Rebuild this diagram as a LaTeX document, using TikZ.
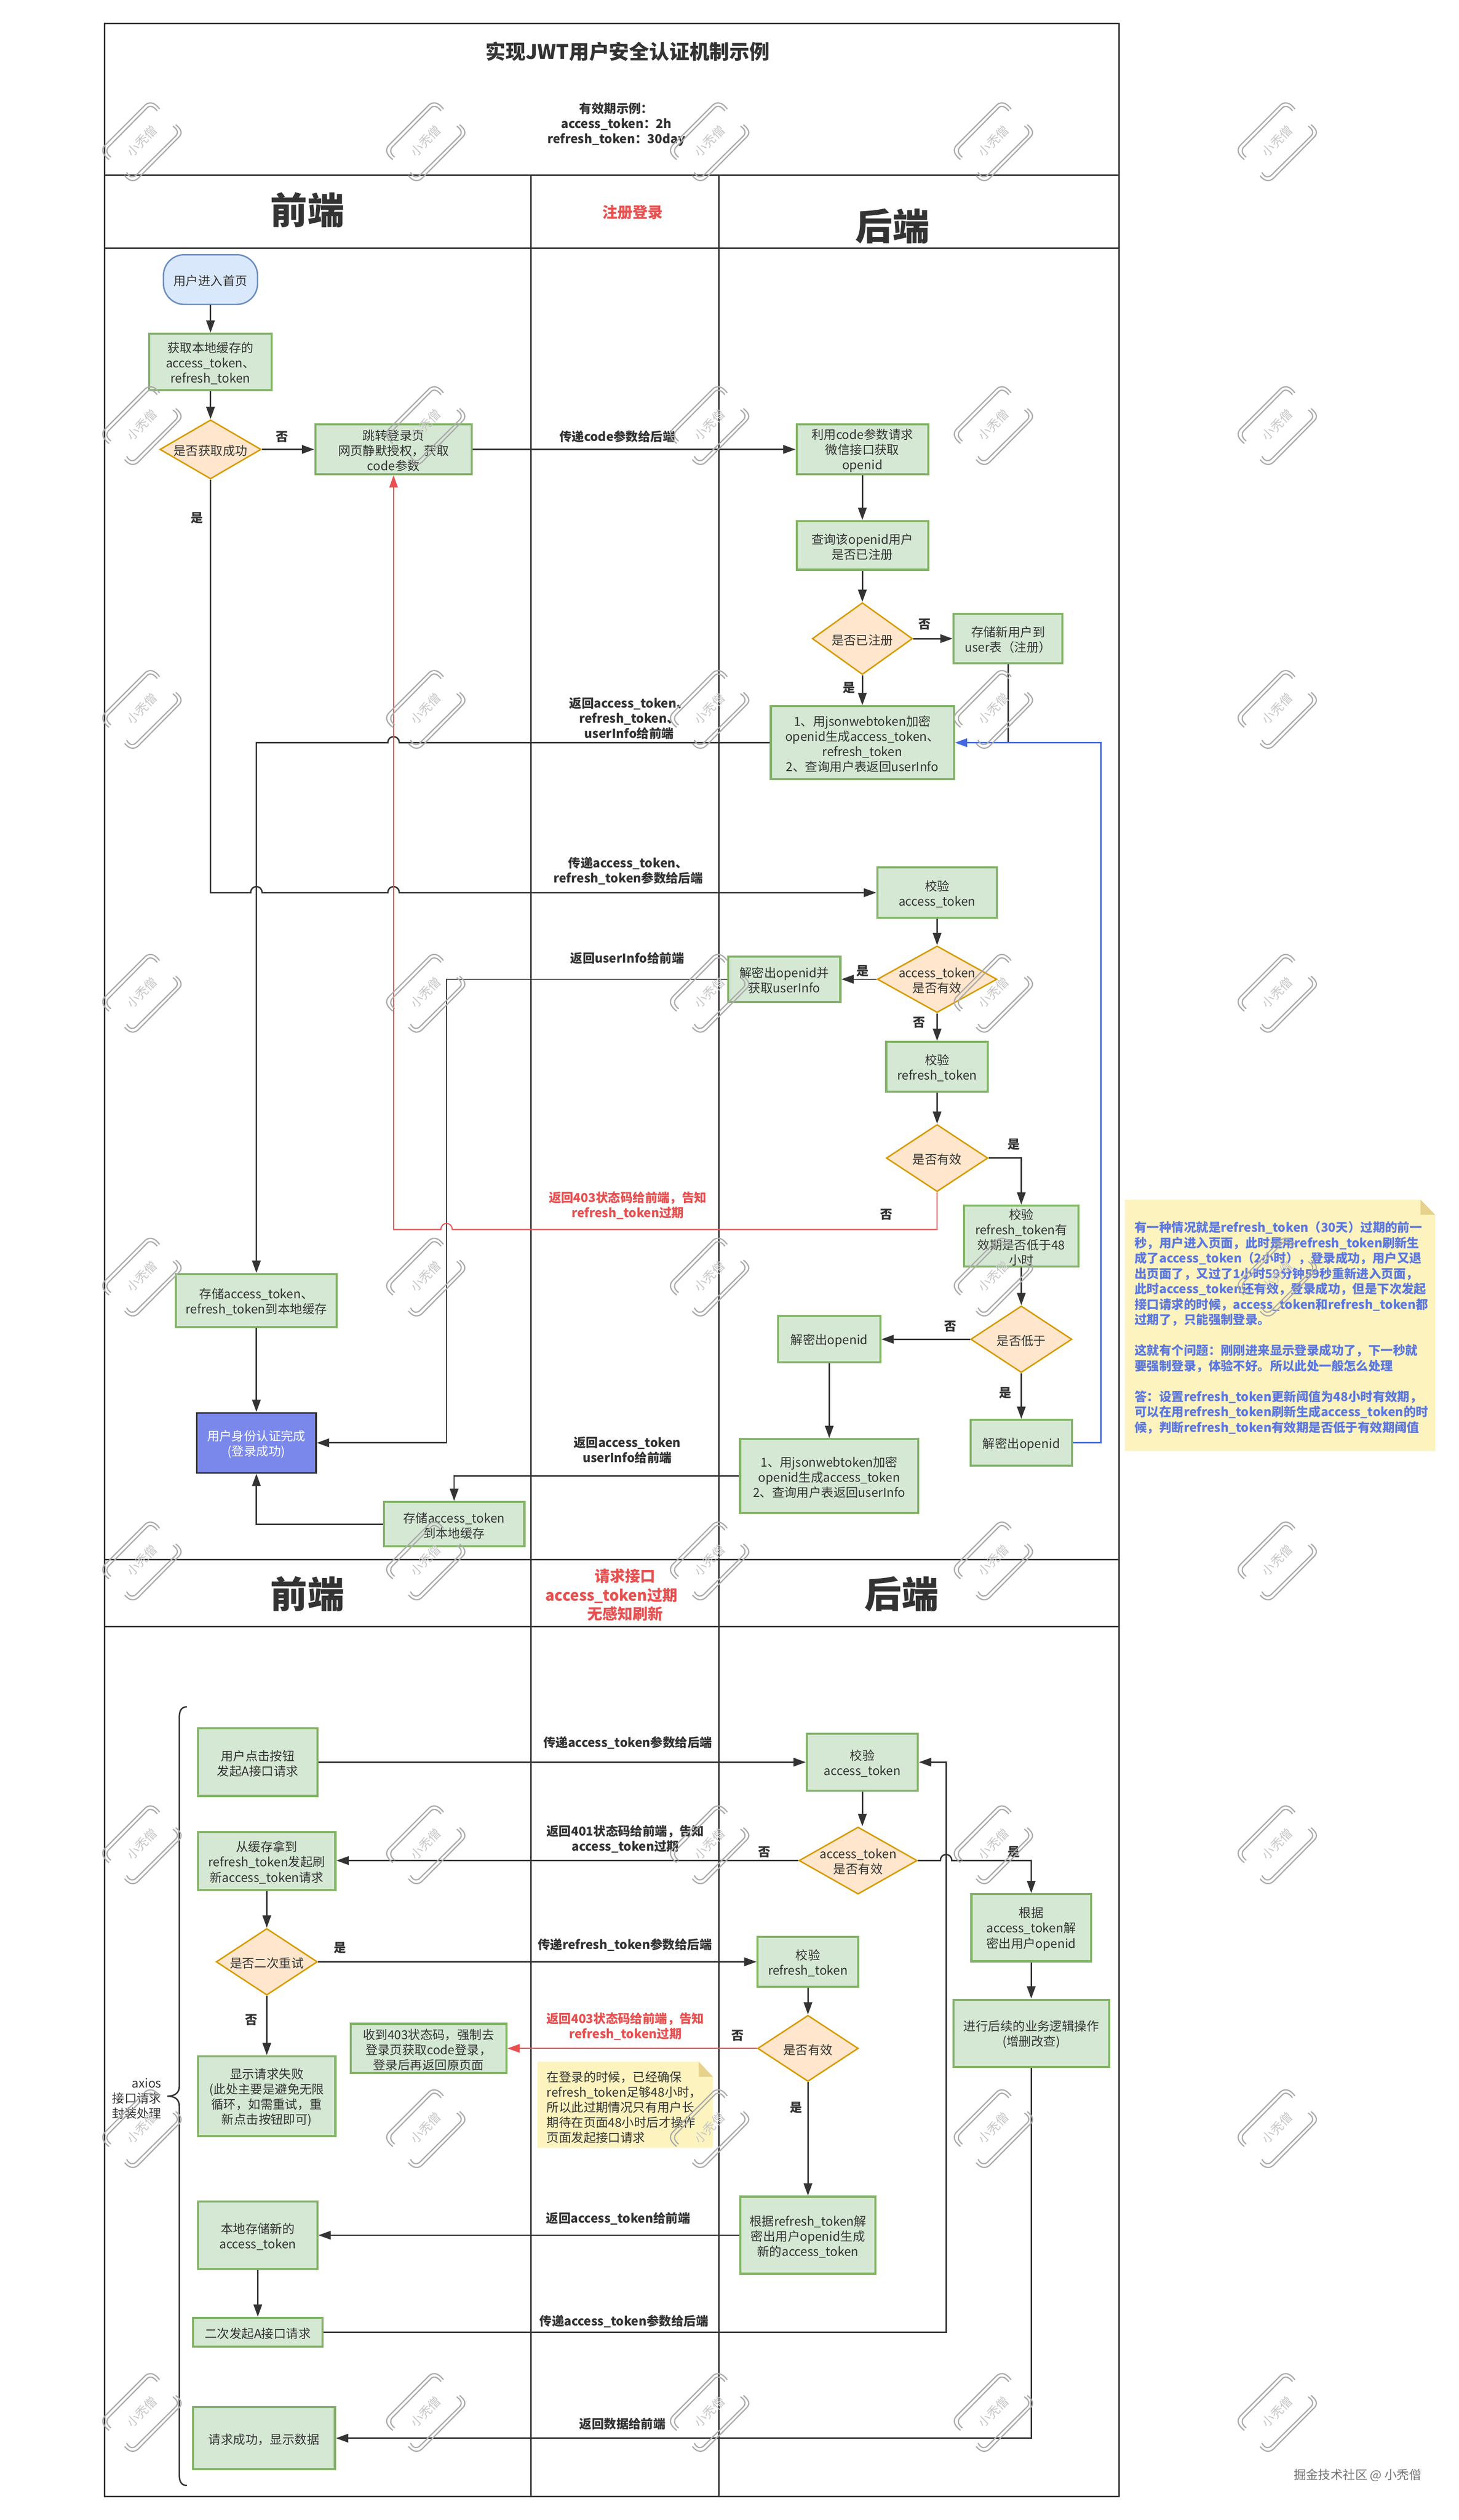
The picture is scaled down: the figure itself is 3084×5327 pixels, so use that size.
\documentclass[tikz,border=0pt]{standalone}
\usepackage{fontspec}
\setmainfont{Noto Sans CJK SC}
\usetikzlibrary{shapes.geometric,arrows.meta}
\definecolor{ink}{HTML}{333333}
\definecolor{gfill}{HTML}{D5E8D4}
\definecolor{gline}{HTML}{82B366}
\definecolor{ofill}{HTML}{FFE6CC}
\definecolor{oline}{HTML}{D79B00}
\definecolor{bfill}{HTML}{DAE8FC}
\definecolor{bline}{HTML}{6C8EBF}
\definecolor{authfill}{HTML}{7A88EC}
\definecolor{redc}{HTML}{E85050}
\definecolor{bluec}{HTML}{4169E1}
\definecolor{notetxt}{HTML}{5C78E0}
\definecolor{notefill}{HTML}{FDF3BF}
\definecolor{notefold}{HTML}{E6D28C}
\definecolor{wmgray}{HTML}{ABABAB}
\tikzset{
  x=0.25pt,y=-0.25pt,
  basefont/.style={font=\fontsize{6.5}{8}\selectfont,text=ink,align=center,inner sep=0pt,yshift=-0.7pt},
  gbox/.style={rectangle,draw=gline,fill=gfill,line width=1.1pt,inner sep=0pt},
  dmd/.style={diamond,draw=oline,fill=ofill,line width=.75pt,inner sep=0pt,aspect=1},
  startbox/.style={rectangle,rounded corners=11pt,draw=bline,fill=bfill,line width=.75pt,inner sep=0pt},
  authbox/.style={rectangle,draw=ink,fill=authfill,line width=.9pt,inner sep=0pt},
  txt/.style={basefont},
  lab/.style={basefont,font=\fontsize{6.5}{8}\selectfont\bfseries},
  rlab/.style={lab,text=redc},
  seclab/.style={basefont,font=\fontsize{8}{10}\selectfont\bfseries,text=redc},
  bigt/.style={basefont,yshift=0.7pt,font=\fontsize{19.5}{24}\selectfont\bfseries},
  lane/.style={draw=ink,line width=.8pt},
  conn/.style={draw=ink,line width=.75pt,-{Triangle[length=6.5pt,width=4.5pt]}},
  lineonly/.style={draw=ink,line width=.75pt},
  redconn/.style={draw=redc,line width=.55pt,-{Triangle[length=6.5pt,width=4.5pt]}},
  blueconn/.style={draw=bluec,line width=.7pt,-{Triangle[length=6.5pt,width=4.5pt]}},
  wmline/.style={draw=wmgray,line width=.65pt,line cap=round},
  wmtext/.style={inner sep=0pt,font=\fontsize{6.5}{8}\selectfont,text=black!22,rotate=45},
}
\newcommand\bx[7]{\node[#2,minimum width=#5*0.25pt,minimum height=#6*0.25pt] (#1) at (#3,#4) {};\node[txt] (#1-t) at (#1) {#7};}
\newcommand\dm[6]{\node[dmd,minimum width=#4*0.25pt,minimum height=#5*0.25pt] (#1) at (#2,#3) {};\node[txt] (#1-t) at (#1) {#6};}
\begin{document}
\begin{tikzpicture}
\path[use as bounding box,fill=white] (0,0) rectangle (3084,5327);
% lanes
\draw[lane] (221,50) rectangle (2366,5277);
\draw[lane] (221,370) -- (2366,370);
\draw[lane] (221,525) -- (2366,525);
\draw[lane] (221,3297) -- (2366,3297);
\draw[lane] (221,3439) -- (2366,3439);
\draw[lane] (1122,370) -- (1122,5277);
\draw[lane] (1520,370) -- (1520,5277);
% headers
\node[basefont,yshift=0.7pt,font=\fontsize{10.6}{14}\selectfont\bfseries] (title) at (1327,109) {实现JWT用户安全认证机制示例};
\node[lab] (valid) at (1303,260) {有效期示例：\\access\_token：2h\\refresh\_token：30day};
\node[bigt] (fe1) at (650,444) {前端};
\node[bigt] (be1) at (1887,478) {后端};
\node[seclab,yshift=0.7pt] (sec1) at (1338,449) {注册登录};
\node[bigt] (fe2) at (650,3369) {前端};
\node[bigt] (be2) at (1906,3370) {后端};
\node[seclab] (sec2) at (1322,3369) {请求接口\\access\_token过期\rule{14.5pt}{0pt}\\无感知刷新};
% part 1 nodes
\bx{start}{startbox}{445}{591}{199}{105}{用户进入首页}
\bx{cache}{gbox}{445}{765}{259}{119}{获取本地缓存的\\access\_token、\\refresh\_token}
\dm{d1}{445}{950}{214}{125}{是否获取成功}
\bx{redir}{gbox}{832}{950}{331}{105}{跳转登录页\\网页静默授权，获取\\code参数}
\bx{code}{gbox}{1823}{950}{278}{105}{利用code参数请求\\微信接口获取\\openid}
\bx{query}{gbox}{1823}{1153}{278}{103}{查询该openid用户\\是否已注册}
\dm{d2}{1823}{1350}{212}{152}{是否已注册}
\bx{saveu}{gbox}{2131}{1350}{230}{105}{存储新用户到\\user表（注册）}
\bx{jwta}{gbox}{1823}{1570}{387}{154}{1、用jsonwebtoken加密\\openid生成access\_token、\\refresh\_token\\2、查询用户表返回userInfo}
\bx{chka}{gbox}{1981}{1887}{253}{106}{校验\\access\_token}
\dm{daa}{1981}{2070}{253}{141}{access\_token\\是否有效}
\bx{decinfo}{gbox}{1658}{2070}{237}{96}{解密出openid并\\获取userInfo}
\bx{chkr}{gbox}{1981}{2255}{215}{105}{校验\\refresh\_token}
\dm{dr}{1981}{2448}{215}{142}{是否有效}
\bx{chkf}{gbox}{2159}{2613}{242}{129}{校验\\refresh\_token有\\效期是否低于48\\小时}
\dm{df}{2159}{2831}{214}{141}{是否低于}
\bx{decl}{gbox}{1753}{2831}{216}{98}{解密出openid}
\bx{decr}{gbox}{2159}{3050}{215}{97}{解密出openid}
\bx{jwtb}{gbox}{1753}{3120}{377}{156}{1、用jsonwebtoken加密\\openid生成access\_token\\2、查询用户表返回userInfo}
\bx{store}{gbox}{542}{2749}{340}{112}{存储access\_token、\\refresh\_token到本地缓存}
\node[authbox,minimum width=252*0.25pt,minimum height=127*0.25pt] (auth) at (542,3050) {};
\node[txt,text=white] (auth-t) at (auth) {用户身份认证完成\\(登录成功)};
\bx{savea}{gbox}{960}{3222}{297}{94}{存储access\_token\\到本地缓存}
% part 2 nodes
\bx{click}{gbox}{545}{3725}{252}{143}{用户点击按钮\\发起A接口请求}
\bx{fresh}{gbox}{564}{3934}{290}{123}{从缓存拿到\\refresh\_token发起刷\\新access\_token请求}
\dm{dretry}{564}{4147}{214}{141}{是否二次重试}
\bx{fail}{gbox}{564}{4431}{290}{169}{显示请求失败\\(此处主要是避免无限\\循环，如需重试，重\\新点击按钮即可)}
\bx{recv}{gbox}{906}{4330}{329}{104}{收到403状态码，强制去\\登录页获取code登录，\\登录后再返回原页面}
\bx{chkb}{gbox}{1823}{3725}{235}{121}{校验\\access\_token}
\dm{dat}{1814}{3933}{250}{142}{access\_token\\是否有效}
\bx{gen}{gbox}{2180}{4075}{253}{142}{根据\\access\_token解\\密出用户openid}
\bx{work}{gbox}{2180}{4298}{329}{142}{进行后续的业务逻辑操作\\(增删改查)}
\bx{chkc}{gbox}{1708}{4147}{213}{105}{校验\\refresh\_token}
\dm{dz}{1708}{4330}{213}{140}{是否有效}
\bx{genr}{gbox}{1708}{4725}{286}{163}{根据refresh\_token解\\密出用户openid生成\\新的access\_token}
\bx{local}{gbox}{545}{4725}{252}{143}{本地存储新的\\access\_token}
\bx{again}{gbox}{545}{4930}{274}{61}{二次发起A接口请求}
\bx{okb}{gbox}{558}{5154}{300}{131}{请求成功，显示数据}
% notes
\fill[notefill] (2378,2536) -- (3003,2536) -- (3034,2568) -- (3034,3067) -- (2378,3067) -- cycle;
\fill[notefold] (3003,2536) -- (3034,2568) -- (3003,2568) -- cycle;
\node[basefont,font=\fontsize{6.5}{8.125}\selectfont\bfseries,text=notetxt,align=left,anchor=west] (notea) at (2398,2804) {有一种情况就是refresh\_token（30天）过期的前一\\秒，用户进入页面，此时是用refresh\_token刷新生\\成了access\_token（2小时），登录成功，用户又退\\出页面了，又过了1小时59分钟59秒重新进入页面，\\此时access\_token还有效，登录成功，但是下次发起\\接口请求的时候，access\_token和refresh\_token都\\过期了，只能强制登录。\\[8.125pt]这就有个问题：刚刚进来显示登录成功了，下一秒就\\要强制登录，体验不好。所以此处一般怎么处理\\[8.125pt]答：设置refresh\_token更新阈值为48小时有效期，\\可以在用refresh\_token刷新生成access\_token的时\\候，判断refresh\_token有效期是否低于有效期阈值};
\fill[notefill] (1136,4358) -- (1477,4358) -- (1507,4390) -- (1507,4540) -- (1136,4540) -- cycle;
\fill[notefold] (1477,4358) -- (1507,4390) -- (1477,4390) -- cycle;
\node[basefont,align=left,anchor=west] (noteb) at (1155,4452) {在登录的时候，已经确保\\refresh\_token足够48小时，\\所以此过期情况只有用户长\\期待在页面48小时后才操作\\页面发起接口请求};
% edge labels
\node[lab] (l01) at (596,921) {否};
\node[lab] (l02) at (416,1092) {是};
\node[lab] (l03) at (1305,920) {传递code参数给后端};
\node[lab] (l04) at (1955,1317) {否};
\node[lab] (l05) at (1795,1451) {是};
\node[lab] (l06) at (1330,1516) {返回access\_token、\\refresh\_token、\\userInfo给前端};
\node[lab] (l07) at (1328,1838) {传递access\_token、\\refresh\_token参数给后端};
\node[lab] (l08) at (1326,2023) {返回userInfo给前端};
\node[lab] (l09) at (1824,2050) {是};
\node[lab] (l10) at (1943,2159) {否};
\node[lab] (l11) at (2143,2416) {是};
\node[lab] (l12) at (1874,2565) {否};
\node[rlab] (l13) at (1327,2545) {返回403状态码给前端，告知\\refresh\_token过期};
\node[lab] (l14) at (2009,2801) {否};
\node[lab] (l15) at (2125,2941) {是};
\node[lab] (l16) at (1326,3063) {返回access\_token\\userInfo给前端};
\node[lab] (l17) at (1327,3681) {传递access\_token参数给后端};
\node[lab] (l18) at (1322,3885) {返回401状态码给前端，告知\\access\_token过期};
\node[lab] (l19) at (1616,3912) {否};
\node[lab] (l20) at (2143,3912) {是};
\node[lab] (l21) at (719,4115) {是};
\node[lab] (l22) at (1321,4108) {传递refresh\_token参数给后端};
\node[rlab] (l23) at (1322,4281) {返回403状态码给前端，告知\\refresh\_token过期};
\node[lab] (l24) at (1559,4300) {否};
\node[lab] (l25) at (531,4267) {否};
\node[lab] (l26) at (1683,4452) {是};
\node[lab] (l27) at (1307,4687) {返回access\_token给前端};
\node[lab] (l28) at (1319,4904) {传递access\_token参数给后端};
\node[lab] (l29) at (1316,5121) {返回数据给前端};
\node[txt,align=right,anchor=east] (axios) at (342,4434) {axios\\接口请求\\封装处理};
% brace
\coordinate (bt) at (395,3608);
\coordinate (bb) at (395,5254);
\coordinate (bm) at (354,4431);
\draw[lineonly] (bt) .. controls (384,3608) and (379,3616) .. (379,3630) -- (379,4410) .. controls (379,4424) and (370,4431) .. (bm) .. controls (370,4431) and (379,4438) .. (379,4452) -- (379,5232) .. controls (379,5246) and (384,5254) .. (bb);
% connectors part 1
\draw[conn] (start.south) -- (cache.north);
\draw[conn] (cache.south) -- (d1.north);
\draw[conn] (d1.east) -- (redir.west);
\draw[conn] (redir.east) -- (code.west);
\draw[conn] (code.south) -- (query.north);
\draw[conn] (query.south) -- (d2.north);
\draw[conn] (d2.east) -- (saveu.west);
\draw[conn] (d2.south) -- (jwta.north);
\draw[lineonly] (saveu.south) -- (saveu.south |- jwta.east);
\draw[conn] (jwta.west) -- (844,1570) .. controls (844,1553) and (820,1553) .. (820,1570) -- (store.north |- jwta.west) -- (store.north);
\draw[conn] (d1.south) -- (d1.south |- chka.west) -- (530,1887) .. controls (530,1870) and (554,1870) .. (554,1887) -- (820,1887) .. controls (820,1870) and (844,1870) .. (844,1887) -- (chka.west);
\draw[conn] (chka.south) -- (daa.north);
\draw[conn] (daa.west) -- (decinfo.east);
\draw[conn] (daa.south) -- (chkr.north);
\draw[conn] (chkr.south) -- (dr.north);
\draw[conn] (decinfo.west) -- (944,2070) -- (944,3050) -- (auth.east);
\draw[conn] (dr.east) -- (chkf.north |- dr.east) -- (chkf.north);
\draw[conn] (chkf.south) -- (df.north);
\draw[conn] (df.west) -- (decl.east);
\draw[conn] (df.south) -- (decr.north);
\draw[conn] (decl.south) -- (jwtb.north);
\draw[blueconn] (decr.east) -- (2327,3050) -- (2327,1570) -- (jwta.east);
\draw[conn] (jwtb.west) -- (savea.north |- jwtb.west) -- (savea.north);
\draw[conn] (savea.west) -- (auth.south |- savea.west) -- (auth.south);
\draw[conn] (store.south) -- (auth.north);
\draw[redconn] (dr.south) -- (1981,2599) -- (956,2599) .. controls (956,2582) and (932,2582) .. (932,2599) -- (redir.south |- 0,2599) -- (redir.south);
% connectors part 2
\draw[conn] (click.east) -- (chkb.west);
\draw[conn] (chkb.south) -- (chkb.south |- dat.north);
\draw[conn] (dat.west) -- (fresh.east |- dat.west);
\draw[conn] (dat.east) -- (1988,3933) .. controls (1988,3916) and (2012,3916) .. (2012,3933) -- (gen.north |- dat.east) -- (gen.north);
\draw[conn] (fresh.south) -- (dretry.north);
\draw[conn] (dretry.east) -- (chkc.west);
\draw[conn] (dretry.south) -- (fail.north);
\draw[conn] (chkc.south) -- (dz.north);
\draw[redconn] (dz.west) -- (recv.east);
\draw[conn] (dz.south) -- (genr.north);
\draw[conn] (genr.west) -- (local.east);
\draw[conn] (local.south) -- (again.north);
\draw[conn] (again.east) -- (2000,4930) -- (2000,3725) -- (chkb.east);
\draw[conn] (gen.south) -- (work.north);
\draw[conn] (work.south) -- (work.south |- okb.east) -- (okb.east);
% credit
\node[basefont,text=black!55] (credit) at (2870,5230) {掘金技术社区 @ 小秃僧};
% watermark
\foreach \wx in {300,900,...,2700}{
  \foreach \wy in {300,900,...,5100}{
    \begin{scope}[shift={(\wx,\wy)}]
      \draw[wmline] (37,-70) .. controls (28,-82) and (18,-86) .. (8,-79) -- (-78,7) .. controls (-86,16) and (-84,26) .. (-70,37);
      \draw[wmline] (32,-66) .. controls (26,-74) and (18,-78) .. (12,-73) -- (-70,10) .. controls (-76,16) and (-76,24) .. (-66,32);
      \draw[wmline] (72,-36) .. controls (84,-26) and (86,-18) .. (78,-10) -- (-8,77) .. controls (-16,84) and (-26,84) .. (-36,72);
      \draw[wmline] (66,-33) .. controls (76,-26) and (78,-18) .. (70,-11) -- (-12,70) .. controls (-18,76) and (-26,76) .. (-32,65);
      \node[wmtext] (wm-\wx-\wy) at (0,-2) {小秃僧};
    \end{scope}
  }
}
\end{tikzpicture}
\end{document}
